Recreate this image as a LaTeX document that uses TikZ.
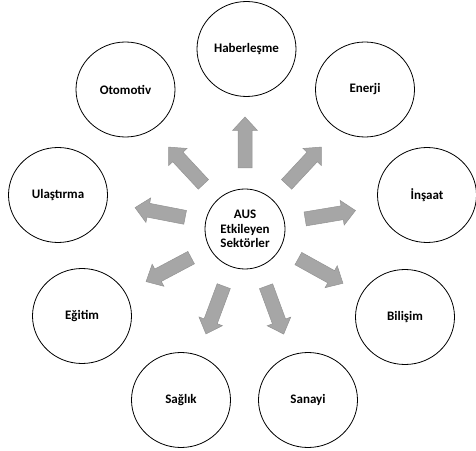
\documentclass[tikz,border=0pt]{standalone}
\usepackage{fontspec}
\setmainfont{Carlito}[BoldFont={Carlito Bold}]
\usetikzlibrary{shapes.geometric}
\tikzset{
  sector/.style={ellipse, draw=black, line width=0.8pt, minimum width=99pt, minimum height=95pt, inner sep=0pt, font=\fontsize{13}{14.5}\selectfont\bfseries},
  hub/.style={circle, draw=black, line width=0.8pt, minimum size=80pt, inner sep=0pt, align=center, font=\fontsize{13}{14.5}\selectfont\bfseries},
  blockarrow/.style={fill=gray!70, draw=gray!85, line width=0.5pt, line join=miter}
}
\newcommand{\sectorarrow}[1]{%
  \draw[blockarrow, shift={(c.center)}, rotate=#1]
    (61,-7) -- (98.5,-7) -- (98.5,-12.5) -- (112,0) -- (98.5,12.5) -- (98.5,7) -- (61,7) -- cycle;}
\begin{document}
\begin{tikzpicture}[x=1pt,y=1pt]
\useasboundingbox (0,0) rectangle (476,450);
\node[hub] (c) at (245,221) {AUS\\Etkileyen\\Sektörler};
\node[sector] (hab) at (246.5,401) {Haberleşme};
\node[sector] (ene) at (365,360.5) {Enerji};
\node[sector] (ins) at (427,255) {İnşaat};
\node[sector] (bil) at (405,133) {Bilişim};
\node[sector] (san) at (308,50) {Sanayi};
\node[sector] (sag) at (181,50) {Sağlık};
\node[sector] (egi) at (82,134) {Eğitim};
\node[sector] (ula) at (58,255) {Ulaştırma};
\node[sector] (oto) at (125.5,360.5) {Otomotiv};
\sectorarrow{90}
\sectorarrow{47}
\sectorarrow{133}
\sectorarrow{9.5}
\sectorarrow{169}
\sectorarrow{208}
\sectorarrow{331}
\sectorarrow{249.6}
\sectorarrow{290.2}
\end{tikzpicture}
\end{document}
